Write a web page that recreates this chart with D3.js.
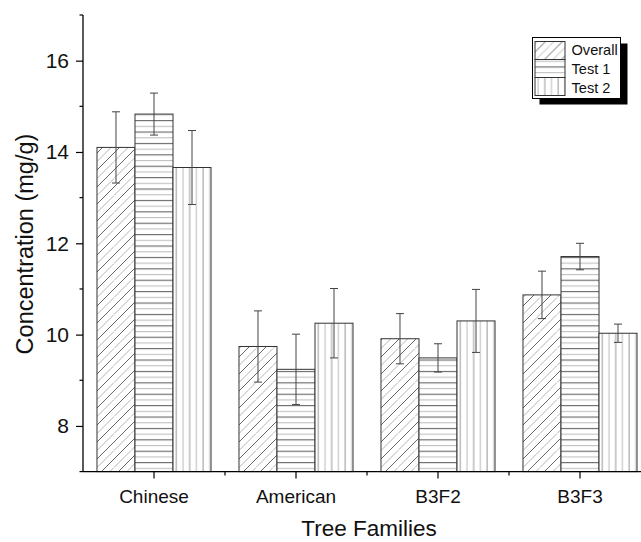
<!DOCTYPE html>
<html>
<head>
<meta charset="utf-8">
<script src="https://cdn.jsdelivr.net/npm/d3@7"></script>
<style>
  body { margin: 0; background: #fff; }
  svg { display: block; font-family: "Liberation Sans", Arial, sans-serif; }
</style>
</head>
<body>
<svg id="chart" width="641" height="542"></svg>
<script>
const categories = ["Chinese", "American", "B3F2", "B3F3"];
const seriesNames = ["Overall", "Test 1", "Test 2"];
const overall = [14.10, 9.74, 9.91, 10.87];
const overallErr = [0.78, 0.78, 0.55, 0.52];
const test1 = [14.83, 9.24, 9.49, 11.71];
const test1Err = [0.46, 0.77, 0.31, 0.29];
const test2 = [13.66, 10.25, 10.30, 10.03];
const test2Err = [0.81, 0.76, 0.69, 0.20];
const yTicks = [8, 10, 12, 14, 16];
const yMinorTicks = [7, 9, 11, 13, 15, 17];

const values = [overall, test1, test2];
const errors = [overallErr, test1Err, test2Err];
const patternIds = ["pat-diag", "pat-horiz", "pat-vert"];

const svg = d3.select("#chart");
const mLeft = 83, mRight = 651, mTop = 15, mBottom = 471.6;

const x = d3.scaleBand().domain(categories).range([mLeft, mRight]).paddingInner(0.197).paddingOuter(0.0985);
const xs = d3.scaleBand().domain(seriesNames).range([0, x.bandwidth()]).padding(0);
const y = d3.scaleLinear().domain([7, 17]).range([mBottom, mTop]);

// patterns
const defs = svg.append("defs");
const pd = defs.append("pattern").attr("id", "pat-diag").attr("patternUnits", "userSpaceOnUse")
  .attr("width", 17).attr("height", 17);
pd.append("rect").attr("width", 17).attr("height", 17).attr("fill", "#fff");
[[0,17,17,0,"#555"],[-3,3,3,-3,"#555"],[14,20,20,14,"#555"],[0,8.5,8.5,0,"#aaa"],[8.5,17,17,8.5,"#aaa"]]
  .forEach(l => pd.append("line").attr("x1", l[0]).attr("y1", l[1]).attr("x2", l[2]).attr("y2", l[3])
    .attr("stroke", l[4]).attr("stroke-width", 0.9));
const ph = defs.append("pattern").attr("id", "pat-horiz").attr("patternUnits", "userSpaceOnUse")
  .attr("width", 10).attr("height", 11.4).attr("y", mBottom);
ph.append("rect").attr("width", 10).attr("height", 11.4).attr("fill", "#fff");
ph.append("line").attr("x1", 0).attr("x2", 10).attr("y1", 2.5).attr("y2", 2.5).attr("stroke", "#555").attr("stroke-width", 1);
ph.append("line").attr("x1", 0).attr("x2", 10).attr("y1", 8.2).attr("y2", 8.2).attr("stroke", "#bbb").attr("stroke-width", 1);
const pv = defs.append("pattern").attr("id", "pat-vert").attr("patternUnits", "userSpaceOnUse")
  .attr("width", 13.4).attr("height", 10).attr("x", mLeft);
pv.append("rect").attr("width", 13.4).attr("height", 10).attr("fill", "#fff");
pv.append("line").attr("y1", 0).attr("y2", 10).attr("x1", 3).attr("x2", 3).attr("stroke", "#bbb").attr("stroke-width", 1);
pv.append("line").attr("y1", 0).attr("y2", 10).attr("x1", 9.7).attr("x2", 9.7).attr("stroke", "#999").attr("stroke-width", 1);

// bars
const groups = svg.append("g").selectAll("g").data(categories).join("g")
  .attr("transform", d => `translate(${x(d)},0)`);
seriesNames.forEach((s, si) => {
  groups.append("rect")
    .attr("x", xs(s)).attr("width", xs.bandwidth())
    .attr("y", (d, i) => y(values[si][i]))
    .attr("height", (d, i) => y(7) - y(values[si][i]))
    .attr("fill", `url(#${patternIds[si]})`)
    .attr("stroke", "#333").attr("stroke-width", 1);
});
// error bars
seriesNames.forEach((s, si) => {
  const cx = xs(s) + xs.bandwidth() / 2;
  groups.each(function(d, i) {
    const g = d3.select(this);
    const v = values[si][i], e = errors[si][i];
    const col = "#444";
    g.append("line").attr("x1", cx).attr("x2", cx).attr("y1", y(v + e)).attr("y2", y(v - e))
      .attr("stroke", col).attr("stroke-width", 1);
    [v + e, v - e].forEach(t => g.append("line").attr("x1", cx - 4).attr("x2", cx + 4)
      .attr("y1", y(t)).attr("y2", y(t)).attr("stroke", col).attr("stroke-width", 1));
  });
});

// y axis
const yAxis = svg.append("g").attr("transform", `translate(${mLeft},0)`)
  .call(d3.axisLeft(y).tickValues(yTicks).tickSize(7).tickPadding(7).tickFormat(d3.format("d")));
yAxis.select(".domain").attr("d", `M0,${mTop}V${mBottom}`).attr("stroke", "#000").attr("stroke-width", 1.3);
yAxis.selectAll(".tick line").attr("stroke", "#000").attr("stroke-width", 1.2);
yAxis.selectAll(".tick text").attr("font-size", 21).attr("fill", "#111").attr("font-family", "Liberation Sans, Arial, sans-serif");
yAxis.selectAll(".minor").data(yMinorTicks).join("line").attr("class", "minor")
  .attr("x1", -3.5).attr("x2", 0).attr("y1", d => y(d)).attr("y2", d => y(d))
  .attr("stroke", "#000").attr("stroke-width", 1.2);

// x axis
const xAxis = svg.append("g").attr("transform", `translate(0,${mBottom})`)
  .call(d3.axisBottom(x).tickSize(7).tickPadding(11));
xAxis.select(".domain").attr("d", `M${mLeft},0H${mRight}`).attr("stroke", "#000").attr("stroke-width", 1.3);
xAxis.selectAll(".tick line").attr("stroke", "#000").attr("stroke-width", 1.2);
xAxis.selectAll(".tick text").attr("font-size", 19).attr("fill", "#111").attr("font-family", "Liberation Sans, Arial, sans-serif");
const bounds = categories.slice(1).map(c => x(c) - x.step() * x.paddingInner() / 2);
xAxis.selectAll(".minor").data(bounds).join("line").attr("class", "minor")
  .attr("x1", d => d).attr("x2", d => d).attr("y1", 0).attr("y2", 4)
  .attr("stroke", "#000").attr("stroke-width", 1.2);

// axis titles
svg.append("text").attr("x", 369).attr("y", 536).attr("text-anchor", "middle")
  .attr("font-size", 22.5).attr("fill", "#111").text("Tree Families");
svg.append("text").attr("transform", `translate(33,244) rotate(-90)`)
  .attr("text-anchor", "middle").attr("font-size", 23.5).attr("fill", "#111").text("Concentration (mg/g)");

// legend
const lg = svg.append("g").attr("transform", "translate(532.5,37.5)");
lg.append("rect").attr("x", 7).attr("y", 6).attr("width", 88).attr("height", 61).attr("fill", "#000");
lg.append("rect").attr("width", 88).attr("height", 61).attr("fill", "#fff").attr("stroke", "#000").attr("stroke-width", 1);
seriesNames.forEach((s, i) => {
  lg.append("rect").attr("x", 2.5).attr("y", 4 + i * 18).attr("width", 30).attr("height", 18)
    .attr("fill", `url(#${patternIds[i]})`).attr("stroke", "#333").attr("stroke-width", 1);
  lg.append("text").attr("x", 39).attr("y", 17.5 + i * 19).attr("font-size", 14.6).attr("fill", "#111").text(s);
});
</script>
</body>
</html>
